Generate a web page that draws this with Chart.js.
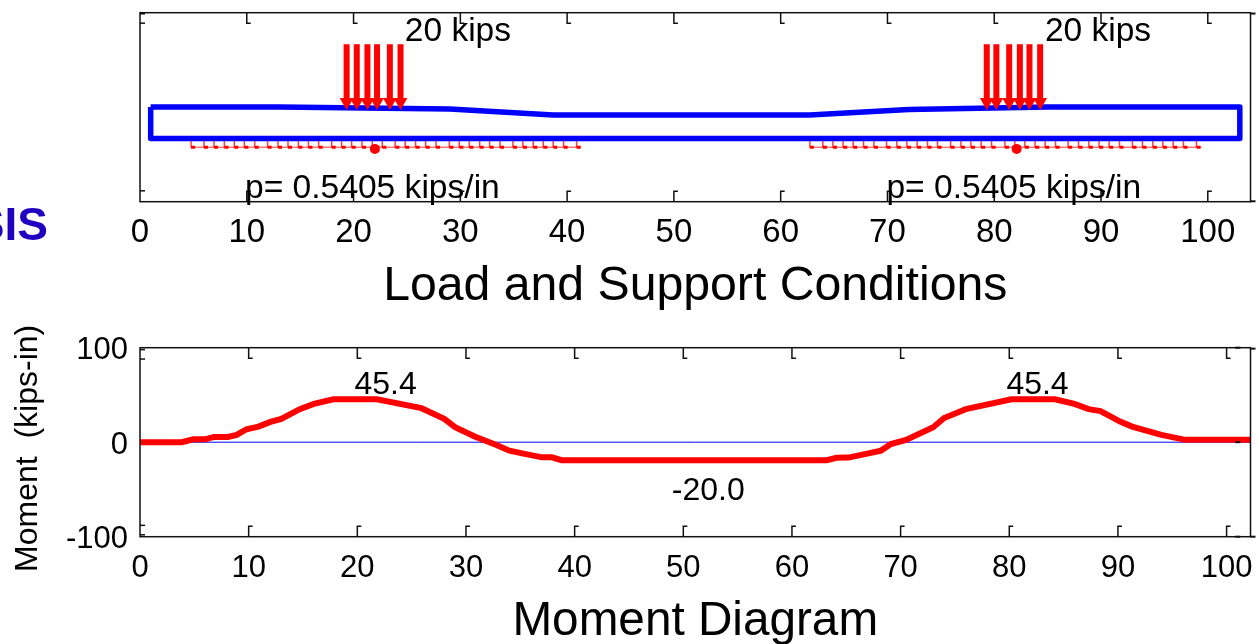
<!DOCTYPE html>
<html>
<head>
<meta charset="utf-8">
<script src="https://cdn.jsdelivr.net/npm/chart.js@4"></script>
<style>
  html, body { margin: 0; background: #fff; }
  canvas { position: absolute; left: 0; }
  #beamChart { top: 0; }
  #momentChart { top: 322px; }
</style>
</head>
<body>
<canvas id="beamChart" width="1259" height="322"></canvas>
<canvas id="momentChart" width="1259" height="322"></canvas>
<script>
const xTickValues = [0, 10, 20, 30, 40, 50, 60, 70, 80, 90, 100];
const momentYTicks = [-100, 0, 100];

// beam outline
const beamX = [1, 13, 29, 38.7, 62.7, 72, 85, 103, 103, 1, 1];
const beamY = [0, 0, -0.5, -1.9, -1.9, -0.6, 0, 0, -7.5, -7.5, 0];

const arrowsX = [19.35, 20.3, 21.3, 22.2, 23.4, 24.4, 79.3, 80.2, 81.4, 82.4, 83.3, 84.3];

const loadLeft = [4.78, 5.99, 6.93, 7.9, 8.83, 9.77, 10.74, 11.95, 12.92, 13.86, 14.83, 15.77, 16.73,
  17.95, 18.88, 19.82, 20.79, 21.75, 22.69, 23.9, 24.84, 25.81, 26.75, 27.72, 28.97, 29.9, 30.84,
  31.81, 32.74, 33.71, 34.93, 35.86, 36.83, 37.77, 38.7, 39.67, 40.89];
const loadRight = [62.73, 63.95, 64.89, 65.85, 66.79, 67.76, 68.73, 69.91, 70.88, 71.82, 72.78, 73.75,
  74.69, 75.91, 76.88, 77.82, 78.77, 79.75, 81, 81.93, 82.87, 83.83, 84.77, 85.74, 86.92, 87.89,
  88.86, 89.82, 90.76, 91.73, 92.94, 93.88, 94.85, 95.79, 96.76, 97.72, 98.94];
const loadCentersX = [22, 82.1];
const loadCentersY = [-10, -10];

const momentX = [0, 3.84, 4.9, 6, 6.8, 8.1, 8.9, 9.8, 10.9, 12, 13, 14.7, 16, 17.8, 21.8, 25.9, 28, 29,
  30.8, 32.8, 34, 35.4, 37, 37.9, 38.8, 63.2, 64.1, 65.2, 68.2, 69.1, 70.5, 73, 74, 76, 80.2, 84.2,
  86, 87.3, 88.4, 90.2, 91.3, 94, 96.2, 102.2];
const momentY = [0, 0, 3, 3, 5.6, 5.6, 7.7, 13.7, 16.5, 21.5, 24.7, 35, 40.5, 45.4, 45.4, 36, 24.7, 16,
  6, -2.9, -9, -12.4, -16, -16, -19, -19, -16.5, -16.3, -8.9, -2, 2.4, 15.9, 25.6, 35, 45.4, 45.4,
  40.5, 35, 33, 21.8, 16.5, 7.7, 2.5, 2.5];

const black = '#000';
const red = '#ff0000';
const blue = '#0000ff';
const font = 'Liberation Sans';
const loadTop = -7.5, loadBase = -9.6, arrowTop = 15, arrowEnd = 1.2;

function pts(xs, ys) {
  return xs.map((x, i) => ({ x: x, y: ys[i] }));
}

function loadLines(xs) {
  const out = [];
  xs.forEach(x => { out.push({ x: x, y: loadTop }, { x: x, y: loadBase }, { x: x, y: NaN }); });
  return out;
}
function loadFeet(xs) {
  const out = [];
  xs.forEach(x => { out.push({ x: x, y: loadBase }, { x: x + 0.38, y: loadBase }, { x: x, y: NaN }); });
  return out;
}

const beamDatasets = [];
arrowsX.forEach(x => {
  beamDatasets.push({
    data: [{ x: x, y: arrowTop }, { x: x, y: arrowEnd }],
    borderColor: red, backgroundColor: red, borderWidth: 6, showLine: true,
    pointStyle: 'triangle', pointRotation: 180, pointRadius: [0, 8], pointBorderWidth: 0, order: 1
  });
});
beamDatasets.push({
  data: pts(beamX, beamY), showLine: true, borderColor: blue, borderWidth: 5.5,
  borderJoinStyle: 'round', pointRadius: 0, order: 2
});
[[loadLeft, 41.3], [loadRight, 99.4]].forEach(s => {
  beamDatasets.push({
    data: [{ x: s[0][0], y: loadBase }, { x: s[1], y: loadBase }], showLine: true,
    borderColor: 'rgba(255,0,0,0.55)', borderWidth: 1.5, pointRadius: 0, order: 3
  });
  beamDatasets.push({
    data: loadLines(s[0]), showLine: true, borderColor: 'rgba(255,0,0,0.75)',
    borderWidth: 1.5, pointRadius: 0, order: 3
  });
  beamDatasets.push({
    data: loadFeet(s[0]), showLine: true, borderColor: red, borderWidth: 3, pointRadius: 0, order: 3
  });
});
beamDatasets.push({
  data: pts(loadCentersX, loadCentersY), borderColor: red, backgroundColor: red,
  pointRadius: 5, pointBorderWidth: 0, order: 0
});

// frame, little hooked ticks and free text, all placed through the chart's scales
function overlay(cfg) {
  return {
    id: 'overlay',
    afterDraw(chart) {
      const c = chart.ctx, a = chart.chartArea;
      const sx = chart.scales.x, sy = chart.scales.y;
      c.save();
      c.strokeStyle = '#111';
      c.lineWidth = 1.5;
      c.strokeRect(a.left, a.top, a.right - a.left, a.bottom - a.top);
      cfg.hookX.forEach(v => {
        const p = sx.getPixelForValue(v);
        c.beginPath();
        c.moveTo(p, a.top); c.lineTo(p, a.top + 10.5); c.lineTo(p + 4, a.top + 10.5);
        c.moveTo(p + 4, a.bottom - 10.5); c.lineTo(p, a.bottom - 10.5); c.lineTo(p, a.bottom);
        c.stroke();
      });
      cfg.hookY.forEach(v => {
        const p = sy.getPixelForValue(v);
        c.beginPath();
        c.moveTo(a.left, p); c.lineTo(a.left + 5, p);
        c.stroke();
      });
      c.lineWidth = 2;
      cfg.cornerDashes.forEach(d => {
        const p = sy.getPixelForValue(d[1]), q = sx.getPixelForValue(d[0]);
        c.beginPath();
        c.moveTo(q, p); c.lineTo(q + 5, p);
        c.stroke();
      });
      c.fillStyle = black;
      c.textBaseline = 'middle';
      cfg.notes.forEach(n => {
        c.font = n.size + 'px "' + font + '"';
        c.textAlign = n.align;
        c.fillText(n.text, sx.getPixelForValue(n.x), sy.getPixelForValue(n.y));
      });
      if (cfg.yTitle) {
        c.save();
        c.translate(cfg.yTitle.left, sy.getPixelForValue(cfg.yTitle.y));
        c.rotate(-Math.PI / 2);
        c.textAlign = 'center';
        c.font = cfg.yTitle.size + 'px "' + font + '"';
        c.fillText(cfg.yTitle.text, 0, 0);
        c.restore();
      }
      if (cfg.clipped) {
        c.fillStyle = cfg.clipped.color;
        c.textAlign = 'right';
        c.font = 'bold ' + cfg.clipped.size + 'px "' + font + '"';
        c.fillText(cfg.clipped.text, cfg.clipped.right, cfg.clipped.mid);
      }
      c.restore();
    }
  };
}

function xAxis(max, title, titleSize, height, tickSize, tickPad, titleBottom) {
  return {
    type: 'linear', min: 0, max: max,
    grid: { display: false },
    border: { display: false },
    afterBuildTicks: s => { s.ticks = xTickValues.map(v => ({ value: v })); },
    afterFit: s => { s.height = height; s.paddingLeft = 0; s.paddingRight = 0; },
    ticks: {
      color: black, maxRotation: 0, autoSkip: false, padding: tickPad,
      font: { family: font, size: tickSize }
    },
    title: {
      display: true, text: title, color: black,
      font: { family: font, size: titleSize }, padding: { top: 0, bottom: titleBottom }
    }
  };
}

Chart.defaults.animation = false;
Chart.defaults.plugins.legend.display = false;
Chart.defaults.plugins.tooltip.enabled = false;

new Chart(document.getElementById('beamChart'), {
  type: 'scatter',
  data: { datasets: beamDatasets },
  options: {
    responsive: false,
    layout: { padding: { top: 12.7, right: 8.5, left: 0, bottom: 0 } },
    scales: {
      x: xAxis(104, 'Load and Support Conditions', 48.2, 120.3, 33, 3, 6),
      y: {
        min: -22.6, max: 22.5,
        grid: { display: false },
        border: { display: false },
        ticks: { display: false },
        afterFit: s => { s.width = 140; s.paddingTop = 0; s.paddingBottom = 0; }
      }
    }
  },
  plugins: [overlay({
    hookX: xTickValues.slice(1),
    hookY: [20, -20],
    cornerDashes: [[0, 22.3], [104, 22.3], [104, -22.5]],
    notes: [
      { text: '20 kips', x: 24.8, y: 17.9, align: 'left', size: 33.5 },
      { text: '20 kips', x: 84.75, y: 17.9, align: 'left', size: 33.5 },
      { text: 'p= 0.5405 kips/in', x: 9.83, y: -19.5, align: 'left', size: 33.6 },
      { text: 'p= 0.5405 kips/in', x: 69.9, y: -19.5, align: 'left', size: 33.6 }
    ],
    clipped: { text: 'SIS', right: 48, mid: 227, size: 46, color: '#2000c0' }
  })]
});

new Chart(document.getElementById('momentChart'), {
  type: 'scatter',
  data: {
    datasets: [
      { data: pts(momentX, momentY), showLine: true, borderColor: red, borderWidth: 6, pointRadius: 0, order: 1 },
      { data: [{ x: 0, y: 0 }, { x: 102.2, y: 0 }], showLine: true, borderColor: blue, borderWidth: 1, pointRadius: 0, order: 2 }
    ]
  },
  options: {
    responsive: false,
    layout: { padding: { top: 25.7, right: 8.5, left: 0, bottom: 0 } },
    scales: {
      x: xAxis(102.2, 'Moment Diagram', 47.7, 107.3, 31, 5, -6),
      y: {
        min: -100, max: 100,
        grid: { display: false },
        border: { display: false },
        afterBuildTicks: s => { s.ticks = momentYTicks.map(v => ({ value: v })); },
        afterFit: s => { s.width = 140; s.paddingTop = 0; s.paddingBottom = 0; },
        ticks: {
          color: black, padding: 4, labelOffset: 3,
          font: { family: font, size: 31 }
        }
      }
    }
  },
  plugins: [overlay({
    hookX: xTickValues.slice(1),
    hookY: [88, -88, 98, -98],
    cornerDashes: [[100.8, 100], [100.8, 0], [100.8, -100], [102.2, 99], [102.2, -100]],
    notes: [
      { text: '45.4', x: 22.6, y: 60.6, align: 'center', size: 32 },
      { text: '45.4', x: 82.6, y: 60.6, align: 'center', size: 32 },
      { text: '-20.0', x: 52.3, y: -51.5, align: 'center', size: 32 }
    ],
    yTitle: { text: 'Moment  (kips-in)', left: 28, y: -6.5, size: 32 }
  })]
});
</script>
</body>
</html>
